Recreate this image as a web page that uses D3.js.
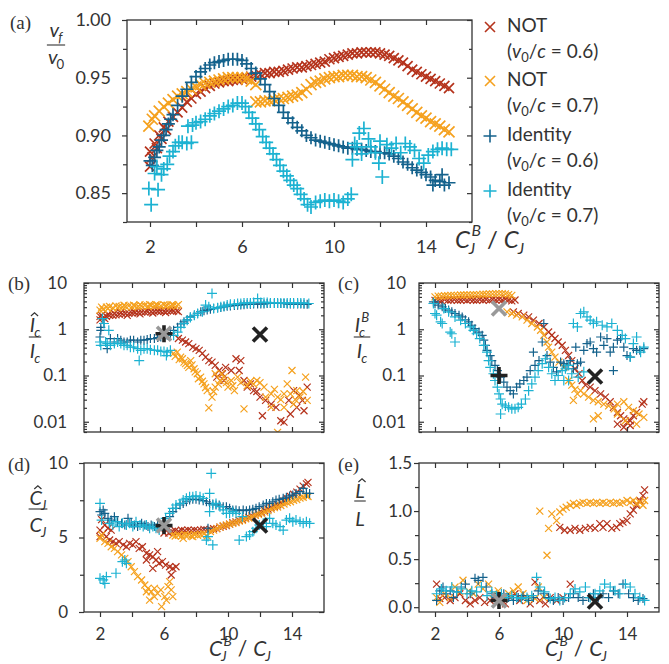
<!DOCTYPE html>
<html>
<head>
<meta charset="utf-8">
<script src="https://cdn.jsdelivr.net/npm/d3@7"></script>
<style>
  body { margin: 0; background: #fff; }
  text { font-family: Lato, "Open Sans", sans-serif; fill: #333; }
</style>
</head>
<body>
<script>
// colours of the four series: NOT 0.6, NOT 0.7, Identity 0.6, Identity 0.7
var colNot06 = "#b5331c", colNot07 = "#f5a11e", colId06 = "#14628c", colId07 = "#1cb2d2";
var axisCol = "#333";

// shared x axis
var xDomain = [1, 16];
var xTicksAll = [2, 4, 6, 8, 10, 12, 14];
var xTicksLabeled = [2, 6, 10, 14];

// y ticks
var aYTicks = [0.85, 0.90, 0.95, 1.00];
var aYMinor = [0.825, 0.875, 0.925, 0.975];
var logTicks = [0.01, 0.1, 1, 10];
var logTickLabels = ["0.01", "0.1", "1", "10"];
var dYTicks = [0, 5, 10];
var dYMinor = [2.5, 7.5];
var eYTicks = [0.0, 0.5, 1.0, 1.5];
var eYMinor = [0.25, 0.75, 1.25];

var legendLabels = ["NOT", "NOT", "Identity", "Identity"];
var legendSpeeds = ["0.6", "0.7", "0.6", "0.7"];

// ---- panel (a): v_f / v_0 ----
var aNot06 = [[2.0,0.873],[2.0,0.886],[2.1,0.881],[2.2,0.893],[2.3,0.889],[2.4,0.900],[2.5,0.897],[2.6,0.907],[2.7,0.905],[2.8,0.912],[3.0,0.916],[3.2,0.920],[3.4,0.924],[3.6,0.929],[3.8,0.932],[4.0,0.936],[4.2,0.938],[4.4,0.941],[4.6,0.943],[4.8,0.945],[5.0,0.946],[5.2,0.947],[5.4,0.947],[5.6,0.948],[5.8,0.948],[6.0,0.949],[6.2,0.950],[6.4,0.951],[6.6,0.952],[6.8,0.953],[7.0,0.954],[7.2,0.954],[7.4,0.955],[7.6,0.955],[7.8,0.956],[8.0,0.957],[8.2,0.958],[8.4,0.959],[8.6,0.959],[8.8,0.960],[9.0,0.961],[9.2,0.962],[9.4,0.963],[9.6,0.964],[9.8,0.966],[10.0,0.967],[10.2,0.968],[10.4,0.969],[10.6,0.970],[10.8,0.971],[11.0,0.971],[11.2,0.972],[11.4,0.972],[11.6,0.972],[11.8,0.972],[12.0,0.971],[12.2,0.970],[12.4,0.969],[12.6,0.967],[12.8,0.965],[13.0,0.963],[13.2,0.960],[13.4,0.957],[13.6,0.955],[13.8,0.953],[14.0,0.951],[14.2,0.949],[14.4,0.947],[14.6,0.945],[14.8,0.943],[15.0,0.941]];
var aNot07 = [[1.95,0.908],[2.1,0.914],[2.2,0.917],[2.4,0.921],[2.6,0.925],[2.8,0.928],[3.0,0.931],[3.2,0.934],[3.4,0.936],[3.6,0.938],[3.8,0.940],[4.0,0.942],[4.2,0.944],[4.4,0.945],[4.6,0.946],[4.8,0.947],[5.0,0.948],[5.2,0.949],[5.4,0.950],[5.6,0.950],[5.8,0.950],[6.0,0.950],[6.2,0.949],[6.4,0.947],[6.6,0.944],[6.6,0.929],[6.8,0.929],[7.0,0.930],[7.2,0.930],[7.4,0.931],[7.6,0.932],[7.8,0.932],[8.0,0.933],[8.2,0.934],[8.4,0.935],[8.6,0.937],[8.8,0.940],[9.0,0.944],[9.2,0.946],[9.4,0.947],[9.6,0.949],[9.8,0.950],[10.0,0.951],[10.2,0.951],[10.4,0.952],[10.6,0.952],[10.8,0.952],[11.0,0.951],[11.2,0.951],[11.4,0.950],[11.6,0.948],[11.8,0.946],[12.0,0.943],[12.2,0.940],[12.4,0.937],[12.6,0.934],[12.8,0.932],[13.0,0.929],[13.2,0.926],[13.4,0.923],[13.6,0.920],[13.8,0.917],[14.0,0.915],[14.2,0.912],[14.4,0.910],[14.6,0.908],[14.8,0.905],[15.0,0.903]];
var aId06 = [[2.0,0.878],[2.1,0.874],[2.2,0.881],[2.3,0.887],[2.4,0.890],[2.5,0.896],[2.6,0.900],[2.7,0.905],[2.8,0.910],[2.9,0.914],[3.0,0.918],[3.2,0.926],[3.4,0.934],[3.6,0.940],[3.8,0.946],[4.0,0.951],[4.2,0.955],[4.4,0.958],[4.6,0.961],[4.8,0.963],[5.0,0.964],[5.2,0.965],[5.4,0.966],[5.6,0.966],[5.8,0.966],[6.0,0.965],[6.2,0.962],[6.4,0.958],[6.6,0.954],[6.8,0.949],[7.0,0.944],[7.2,0.938],[7.4,0.932],[7.6,0.926],[7.8,0.920],[8.0,0.915],[8.2,0.911],[8.4,0.907],[8.6,0.904],[8.8,0.900],[9.0,0.898],[9.2,0.896],[9.4,0.895],[9.6,0.894],[9.8,0.893],[10.0,0.892],[10.2,0.891],[10.4,0.890],[10.6,0.889],[10.8,0.889],[11.0,0.888],[11.2,0.888],[11.4,0.887],[11.6,0.886],[11.8,0.886],[12.0,0.885],[12.2,0.885],[12.4,0.884],[12.6,0.882],[12.8,0.880],[13.0,0.877],[13.2,0.875],[13.4,0.872],[13.6,0.870],[13.8,0.868],[14.0,0.866],[14.2,0.864],[14.3,0.857],[14.4,0.861],[14.6,0.860],[14.7,0.866],[14.8,0.857],[15.0,0.859]];
var aId07 = [[1.95,0.854],[2.05,0.840],[2.35,0.853],[2.2,0.867],[2.3,0.873],[2.5,0.866],[2.6,0.871],[2.75,0.875],[2.85,0.882],[3.0,0.886],[3.1,0.891],[3.25,0.894],[3.4,0.894],[3.6,0.893],[3.8,0.894],[3.65,0.908],[3.85,0.909],[4.0,0.911],[4.2,0.912],[4.4,0.914],[4.6,0.917],[4.8,0.919],[5.0,0.921],[5.2,0.923],[5.4,0.925],[5.6,0.926],[5.8,0.928],[6.0,0.928],[6.15,0.925],[6.3,0.920],[6.45,0.915],[6.6,0.910],[6.75,0.905],[6.9,0.899],[7.05,0.894],[7.2,0.889],[7.35,0.884],[7.5,0.879],[7.65,0.874],[7.8,0.869],[7.95,0.865],[8.1,0.861],[8.25,0.857],[8.4,0.854],[8.55,0.849],[8.7,0.845],[8.85,0.840],[9.0,0.838],[9.2,0.842],[9.4,0.843],[9.6,0.844],[9.8,0.843],[10.0,0.844],[10.2,0.843],[10.4,0.842],[10.6,0.845],[10.75,0.849],[10.8,0.879],[10.9,0.893],[11.0,0.890],[11.1,0.902],[11.2,0.884],[11.3,0.906],[11.5,0.897],[11.6,0.890],[11.8,0.885],[11.95,0.876],[12.0,0.895],[12.1,0.864],[12.3,0.892],[12.5,0.889],[12.7,0.893],[12.9,0.885],[13.1,0.893],[13.3,0.890],[13.5,0.887],[13.7,0.880],[13.9,0.876],[14.1,0.883],[14.3,0.886],[14.5,0.888],[14.7,0.889],[14.9,0.888],[15.1,0.888]];

// ---- panel (b): I_c hat / I_c (log) ----
var bNot06 = [[2.0,1.6],[2.0,1.9],[2.1,2.0],[2.2,1.8],[2.3,1.7],[2.4,1.9],[2.5,2.1],[2.6,2.0],[2.8,2.0],[2.9,2.2],[3.0,2.05],[3.2,2.1],[3.3,2.3],[3.4,2.15],[3.6,2.2],[3.7,2.0],[3.8,2.2],[4.0,2.25],[4.1,2.4],[4.2,2.3],[4.4,2.3],[4.5,2.15],[4.6,2.35],[4.8,2.35],[4.9,2.5],[5.0,2.4],[5.2,2.4],[5.3,2.25],[5.4,2.4],[5.6,2.45],[5.7,2.6],[5.8,2.45],[6.0,2.45],[6.1,2.3],[6.2,2.5],[6.4,2.5],[6.5,2.6],[6.6,2.5],[6.8,2.5],[6.9,2.4],
  [6.9,0.63],[7.15,0.58],[7.35,0.53],[7.55,0.49],[7.8,0.41],[8.0,0.38],[8.2,0.35],[8.4,0.30],[8.6,0.25],[8.8,0.21],[9.0,0.195],[9.2,0.165],[9.3,0.092],[9.45,0.128],[9.65,0.109],[9.75,0.078],[9.85,0.15],[10.2,0.128],[10.5,0.23],[10.7,0.128],[10.8,0.21],[11.0,0.078],[11.2,0.056],[11.4,0.066],[11.6,0.047],[11.8,0.045],[12.0,0.034],[12.15,0.0135],[12.35,0.029],[12.7,0.024],[13.0,0.0205],[13.3,0.0105],[13.5,0.0098],[13.8,0.029],[13.9,0.0147],[14.1,0.047],[14.3,0.0205],[14.45,0.037],[14.65,0.029],[14.75,0.0173],[14.95,0.056]];
var bNot07 = [[2.0,2.6],[2.1,3.0],[2.2,2.7],[2.4,3.0],[2.5,2.8],[2.6,3.1],[2.8,2.9],[3.0,3.2],[3.1,2.9],[3.2,3.1],[3.4,3.0],[3.5,3.3],[3.6,3.1],[3.8,3.2],[4.0,3.0],[4.1,3.3],[4.2,3.2],[4.4,3.1],[4.5,3.4],[4.6,3.2],[4.8,3.3],[5.0,3.1],[5.1,3.4],[5.2,3.3],[5.4,3.2],[5.5,3.4],[5.6,3.3],[5.8,3.2],[6.0,3.4],[6.1,3.2],[6.2,3.3],[6.4,3.2],[6.5,3.4],[6.6,3.3],[6.8,3.2],[6.9,3.4],
  [6.6,0.30],[6.7,0.26],[6.83,0.32],[6.95,0.22],[7.04,0.25],[7.15,0.23],[7.25,0.195],[7.35,0.18],[7.46,0.165],[7.55,0.15],[7.67,0.21],[7.75,0.17],[7.88,0.14],[7.95,0.12],[8.08,0.109],[8.15,0.085],[8.29,0.092],[8.4,0.075],[8.5,0.066],[8.6,0.055],[8.7,0.047],[8.8,0.02],[9.0,0.034],[9.1,0.045],[9.2,0.056],[9.2,0.109],[9.4,0.065],[9.5,0.078],[9.6,0.11],[9.75,0.092],[9.9,0.07],[10.0,0.056],[10.2,0.078],[10.3,0.06],[10.4,0.047],[10.6,0.092],[10.8,0.07],[11.0,0.019],[11.2,0.06],[11.4,0.075],[11.6,0.065],[11.8,0.078],[12.0,0.07],[12.25,0.056],[12.35,0.034],[12.7,0.04],[12.7,0.0205],[12.9,0.05],[13.1,0.034],[13.1,0.0059],[13.3,0.03],[13.5,0.04],[13.5,0.0205],[13.7,0.066],[13.9,0.04],[14.0,0.128],[14.1,0.024],[14.2,0.03],[14.3,0.047],[14.5,0.034],[14.7,0.045],[14.85,0.092],[14.95,0.029]];
var bId06 = [[2.0,0.68],[2.05,0.95],[2.05,1.1],[2.25,1.33],[2.45,0.38],[2.65,0.63],[2.9,0.53],[3.1,0.63],[3.3,0.58],[3.5,0.53],[3.7,0.53],[3.9,0.58],[4.1,0.58],[4.35,0.53],[4.55,0.58],[4.75,0.58],[4.95,0.6],[5.15,0.63],[5.4,0.63],[5.6,0.66],[5.8,0.68],[6.0,0.7],[6.2,0.74],[6.4,0.82],[6.6,0.95],[6.85,1.1],[7.05,1.3],[7.25,1.45],[7.45,1.6],[7.65,1.85],[7.9,2.0],[8.1,2.2],[8.3,2.4],[8.5,2.5],[8.7,2.6],[8.9,2.7],[9.1,2.8],[9.35,2.9],[9.55,2.95],[9.75,3.05],[9.95,3.15],[10.15,3.2],[10.4,3.25],[10.6,3.3],[10.8,3.35],[11.0,3.4],[11.2,3.45],[11.4,3.45],[11.6,3.5],[11.85,3.5],[12.05,3.5],[12.25,3.5],[12.45,3.6],[12.65,3.6],[12.9,3.6],[13.1,3.6],[13.3,3.6],[13.5,3.6],[13.7,3.5],[13.9,3.5],[14.1,3.5],[14.35,3.5],[14.55,3.5],[14.75,3.45],[14.95,3.45]];
var bId07 = [[2.0,0.53],[2.05,0.45],[2.15,1.7],[2.25,1.33],[2.35,0.53],[2.45,0.49],[2.55,0.95],[2.65,0.45],[2.9,0.49],[3.1,0.53],[3.3,0.49],[3.5,0.45],[3.7,0.45],[3.9,0.41],[4.1,0.41],[4.35,0.38],[4.45,0.21],[4.55,0.35],[4.75,0.38],[4.95,0.38],[5.15,0.36],[5.4,0.35],[5.6,0.35],[5.8,0.33],[6.0,0.33],[6.15,0.27],[6.2,0.32],[6.4,0.35],[6.6,0.74],[6.85,0.87],[7.05,1.1],[7.25,1.33],[7.45,1.57],[7.65,1.8],[7.9,2.0],[8.1,2.2],[8.4,2.4],[8.6,3.33],[8.8,3.06],[9.0,5.96],[9.1,2.8],[9.35,2.9],[9.55,3.06],[9.75,3.15],[9.95,3.33],[10.15,3.45],[10.4,3.45],[10.6,3.6],[10.8,3.6],[11.0,3.7],[11.2,3.7],[11.4,3.7],[11.6,3.8],[11.85,4.6],[12.05,3.8],[12.25,3.8],[12.45,3.8],[12.65,3.7],[12.9,3.7],[13.1,3.7],[13.3,3.7],[13.5,3.7],[13.7,3.7],[13.9,3.7],[14.1,3.7],[14.35,3.7],[14.55,3.7],[14.75,3.7],[15.05,3.6]];

// ---- panel (c): I_c^B / I_c (log) ----
var cNot06 = [[2.0,4.2],[2.2,4.3],[2.4,4.1],[2.6,4.4],[2.8,4.2],[3.0,4.3],[3.2,4.4],[3.4,4.2],[3.6,4.3],[3.8,4.4],[4.0,4.2],[4.2,4.4],[4.4,4.3],[4.6,4.2],[4.8,4.4],[5.0,4.3],[5.2,4.4],[5.4,4.2],[5.6,4.4],[5.8,4.3],[6.0,4.4],[6.2,4.3],[6.4,4.5],[6.6,4.3],[6.8,4.1],[7.0,4.3],
  [6.9,2.38],[7.2,2.19],[7.55,2.02],[7.85,1.85],[8.15,1.57],[8.5,1.33],[8.8,1.12],[9.1,0.87],[9.3,0.74],[9.5,0.63],[9.7,0.53],[9.95,0.45],[10.15,0.35],[10.35,0.27],[10.55,0.21],[10.75,0.14],[11.0,0.109],[11.2,0.078],[11.4,0.062],[11.7,0.056],[12.0,0.047],[12.35,0.04],[12.65,0.034],[12.95,0.027],[13.15,0.0205],[13.4,0.016],[13.4,0.0089],[13.6,0.0135],[13.8,0.0115],[13.8,0.0076],[14.0,0.0097],[14.2,0.0105],[14.2,0.0083],[14.4,0.0135],[14.6,0.016],[14.95,0.024],[15.05,0.027]];
var cNot07 = [[2.0,5.0],[2.2,5.2],[2.4,5.2],[2.6,5.3],[2.8,5.3],[3.0,5.4],[3.2,5.4],[3.4,5.4],[3.6,5.5],[3.8,5.5],[4.0,5.5],[4.2,5.5],[4.4,5.6],[4.6,5.6],[4.8,5.6],[5.0,5.7],[5.2,5.7],[5.4,5.8],[5.6,5.8],[5.8,5.9],[6.0,5.9],[6.2,5.9],[6.4,5.8],[6.6,5.6],[6.8,5.4],
  [6.5,2.38],[6.8,2.19],[7.1,2.02],[7.45,1.85],[7.75,1.57],[8.05,1.33],[8.4,1.12],[8.6,0.95],[8.8,0.74],[9.0,0.53],[9.1,0.41],[9.3,0.32],[9.5,0.25],[9.75,0.195],[10.05,0.15],[10.35,0.078],[10.55,0.062],[10.65,0.029],[10.75,0.05],[10.9,0.04],[11.1,0.047],[11.3,0.04],[11.6,0.034],[11.9,0.029],[11.9,0.0115],[12.2,0.027],[12.2,0.0135],[12.55,0.024],[12.85,0.022],[13.2,0.019],[13.4,0.024],[13.4,0.0147],[13.8,0.027],[13.9,0.0105],[14.1,0.0205],[14.4,0.0173],[14.6,0.0089],[14.75,0.0147],[15.05,0.0124]];
var cId06 = [[1.9,3.9],[2.0,3.6],[2.2,3.33],[2.45,3.06],[2.65,2.8],[2.85,2.6],[3.05,2.38],[3.25,2.19],[3.5,2.02],[3.7,1.85],[3.9,1.6],[4.1,1.45],[4.3,1.22],[4.5,1.03],[4.75,0.87],[4.95,0.74],[5.05,0.58],[5.15,0.45],[5.25,0.35],[5.45,0.27],[5.55,0.21],[5.75,0.165],[5.9,0.128],[6.1,0.092],[6.3,0.072],[6.5,0.056],[6.7,0.047],[6.9,0.04],[7.1,0.056],[7.3,0.066],[7.55,0.078],[7.75,0.092],[7.95,0.128],[8.15,0.32],[8.25,0.165],[8.5,0.21],[8.7,0.53],[8.8,1.33],[9.0,0.27],[9.2,0.195],[9.4,0.15],[9.6,0.12],[9.85,0.195],[10.05,0.18],[10.25,0.165],[10.45,0.21],[10.65,0.14],[10.8,0.41],[10.9,0.18],[11.1,0.195],[11.3,0.35],[11.5,0.49],[11.7,0.53],[11.9,0.38],[12.1,0.32],[12.35,0.68],[12.55,0.45],[12.75,0.63],[12.95,0.32],[13.15,0.41],[13.15,0.128],[13.4,0.58],[13.6,0.63],[13.8,0.41],[14.0,0.27],[14.2,0.25],[14.4,0.38],[14.6,0.35],[14.8,0.35],[15.05,0.38]];
var cId07 = [[1.9,3.6],[2.0,2.19],[2.1,2.02],[2.35,1.45],[2.45,1.33],[2.55,2.8],[2.85,2.38],[2.95,0.87],[3.05,0.8],[3.25,0.53],[3.25,1.85],[3.6,1.57],[3.9,1.33],[4.2,1.12],[4.4,0.95],[4.6,0.8],[4.8,0.63],[5.05,0.45],[5.25,0.32],[5.35,0.21],[5.45,0.15],[5.65,0.109],[5.75,0.078],[5.9,0.056],[6.0,0.04],[6.1,0.031],[6.1,0.0147],[6.2,0.024],[6.4,0.022],[6.6,0.0205],[6.8,0.019],[7.0,0.019],[7.2,0.0205],[7.4,0.024],[7.65,0.031],[7.85,0.047],[8.05,0.066],[8.25,0.092],[8.45,0.128],[8.7,0.18],[8.9,0.23],[9.1,0.15],[9.3,0.109],[9.5,0.078],[9.7,0.1],[9.95,0.128],[10.05,0.078],[10.15,0.14],[10.35,0.165],[10.35,0.078],[10.55,0.109],[10.65,1.33],[10.9,1.12],[10.95,0.092],[11.1,2.19],[11.3,2.38],[11.3,0.12],[11.5,1.85],[11.7,1.57],[11.9,1.33],[12.1,1.45],[12.45,1.22],[12.75,1.12],[13.05,1.33],[13.4,0.95],[13.7,0.74],[13.9,0.63],[14.2,0.25],[14.4,0.49],[14.6,0.68],[14.85,0.32],[15.05,0.41]];

// ---- panel (d): C_J hat / C_J ----
var dNot06 = [[2.0,5.5],[2.1,6.2],[2.3,5.84],[2.5,5.62],[2.7,5.5],[6.0,5.3],[6.3,5.3],[6.5,5.4],[6.7,5.45],[6.9,5.4],[7.1,5.5],[7.3,5.45],[7.5,5.5],[7.7,5.45],[7.9,5.5],[8.1,5.45],[8.3,5.5],[8.5,5.55],[8.7,5.5],[8.9,5.55],[9.1,5.6],[9.3,5.6],[9.5,5.7],[9.7,5.75],[9.9,5.8],[10.1,5.9],[10.3,6.0],[10.5,6.05],[10.7,6.15],[10.9,6.2],[11.1,6.3],[11.3,6.35],[11.5,6.45],[11.7,6.5],[11.9,6.6],[12.1,6.7],[12.3,6.8],[12.5,6.9],[12.7,7.0],[12.9,7.1],[13.1,7.2],[13.3,7.35],[13.5,7.45],[13.7,7.6],[13.9,7.75],[14.1,7.9],[14.3,8.05],[14.5,8.25],[14.7,8.45],[14.9,8.6],[15.0,8.7],
  [2.0,5.06],[2.2,5.28],[2.4,5.06],[2.6,4.83],[2.8,4.72],[3.0,4.61],[3.2,4.72],[3.45,4.5],[3.65,4.38],[3.85,4.61],[4.05,4.5],[4.25,4.72],[4.45,4.27],[4.65,4.38],[4.9,3.94],[4.9,3.49],[5.1,3.83],[5.3,3.71],[5.3,2.93],[5.5,3.49],[5.6,4.05],[5.7,3.27],[5.9,3.38],[6.1,3.15],[6.35,3.04],[6.45,2.48],[6.55,2.93],[6.75,3.04]];
var dNot07 = [[6.55,5.17],[6.7,5.1],[6.9,5.15],[7.1,5.1],[7.2,4.94],[7.3,5.2],[7.5,5.15],[7.7,5.1],[7.8,5.06],[7.9,5.2],[8.1,5.15],[8.3,5.2],[8.5,5.25],[8.7,5.1],[8.9,5.4],[9.1,5.5],[9.3,5.6],[9.5,5.7],[9.7,5.8],[9.9,5.85],[10.1,5.9],[10.3,5.95],[10.5,6.0],[10.7,6.1],[10.9,6.15],[11.1,6.25],[11.3,6.3],[11.5,6.4],[11.7,6.5],[11.9,6.55],[12.1,6.6],[12.3,6.7],[12.5,6.8],[12.7,6.9],[12.9,7.0],[13.1,7.05],[13.3,7.15],[13.5,7.25],[13.7,7.35],[13.9,7.4],[14.1,7.5],[14.3,7.55],[14.5,7.65],[14.7,7.7],[14.9,7.8],[15.0,7.75],
  [2.0,4.94],[2.1,5.17],[2.3,4.72],[2.5,4.61],[2.7,4.38],[2.9,4.27],[3.1,4.05],[3.35,3.83],[3.55,3.6],[3.75,3.38],[3.95,3.04],[4.15,2.71],[4.35,2.37],[4.6,2.15],[4.8,1.81],[4.9,1.36],[5.0,1.59],[5.1,0.8],[5.2,1.36],[5.4,1.03],[5.4,1.59],[5.6,1.25],[5.8,1.48],[5.85,0.36],[6.05,1.03],[6.15,0.8],[6.25,1.7],[6.35,2.04],[6.45,1.48],[6.55,1.03]];
var dId06 = [[2.0,6.73],[2.1,6.51],[2.2,6.85],[2.3,6.62],[2.5,6.29],[2.7,6.17],[2.9,6.4],[3.1,6.06],[3.35,5.95],[3.55,5.84],[3.75,6.29],[3.95,5.95],[4.15,5.84],[4.35,5.73],[4.6,5.95],[4.8,5.84],[5.0,5.73],[5.2,5.84],[5.4,5.73],[5.6,5.84],[5.8,5.84],[6.1,6.06],[6.35,6.4],[6.55,6.73],[6.75,6.96],[7.0,7.18],[7.2,7.29],[7.4,7.4],[7.6,7.52],[7.8,7.56],[8.0,7.56],[8.2,7.52],[8.45,7.47],[8.65,7.4],[8.75,5.62],[8.85,7.29],[9.05,7.25],[9.25,7.18],[9.45,7.18],[9.7,7.07],[9.9,7.07],[10.1,6.96],[10.3,6.85],[10.5,6.85],[10.7,6.8],[10.95,6.85],[11.15,6.8],[11.35,6.85],[11.55,6.89],[11.75,6.96],[11.95,7.07],[12.2,7.18],[12.4,7.29],[12.6,7.29],[12.8,7.4],[13.0,7.52],[13.2,7.56],[13.45,7.63],[13.65,7.7],[13.85,7.79],[14.05,7.85],[14.25,7.96],[14.5,8.08],[14.7,8.3],[14.9,7.96],[15.1,7.96]];
var dId07 = [[2.0,7.29],[2.1,6.17],[2.0,2.26],[2.2,2.15],[2.3,1.92],[2.4,2.37],[3.0,2.6],[3.4,3.38],[3.55,3.49],[3.65,3.27],[2.6,5.95],[2.8,5.84],[3.0,6.06],[3.2,5.73],[3.4,5.95],[3.65,5.84],[3.85,5.95],[4.05,5.73],[4.25,6.06],[4.5,5.84],[4.7,5.73],[4.9,5.84],[5.1,5.62],[5.3,5.73],[5.5,5.62],[5.7,5.5],[6.1,6.29],[6.35,6.62],[6.55,6.96],[6.75,7.18],[7.0,7.29],[7.2,7.52],[7.4,7.63],[7.6,7.74],[7.8,7.74],[8.0,7.79],[8.25,7.74],[8.45,7.63],[8.65,4.83],[8.75,5.06],[8.85,7.96],[8.85,6.73],[8.95,9.3],[9.05,7.18],[9.05,4.5],[9.25,7.29],[9.5,7.07],[9.7,6.85],[9.9,6.62],[10.1,6.62],[10.3,6.73],[10.5,6.62],[10.7,4.83],[10.9,6.4],[11.15,5.06],[11.35,5.17],[11.55,5.39],[11.75,5.62],[11.95,5.84],[12.2,5.95],[12.4,5.73],[12.6,6.29],[12.8,5.95],[13.0,5.84],[13.25,5.73],[13.45,5.5],[13.65,6.17],[13.85,6.29],[14.05,6.06],[14.25,6.17],[14.5,6.06],[14.7,5.95],[14.9,6.06],[15.1,5.95]];

// ---- panel (e): L hat / L ----
var eNot06 = [[9.8,0.83],[10.1,0.8],[10.45,0.8],[10.75,0.82],[11.05,0.8],[11.4,0.82],[11.7,0.83],[12.0,0.82],[12.3,0.87],[12.5,0.83],[12.75,0.87],[13.05,0.82],[13.35,0.83],[13.55,0.87],[13.75,0.885],[14.0,0.9],[14.2,0.97],[14.4,1.01],[14.6,1.06],[14.8,1.11],[15.0,1.16],[15.1,1.22],
  [2.1,0.24],[2.3,0.09],[2.6,0.10],[2.95,0.07],[3.25,0.10],[3.55,0.14],[3.9,0.07],[4.2,0.035],[4.5,0.07],[4.8,0.10],[5.1,0.05],[5.45,0.07],[5.75,0.10],[6.05,0.07],[6.4,0.035],[6.7,0.10],[7.0,0.14],[7.3,0.07],[7.6,0.10],[7.95,0.035],[8.25,0.26],[8.55,0.07],[8.9,0.035],[9.2,0.10],[9.6,0.07],[10.0,0.10],[10.45,0.24]];
var eNot07 = [[8.55,1.0],[9.0,0.54],[9.1,0.82],[9.3,0.97],[9.6,0.9],[9.8,0.99],[10.0,1.02],[10.2,1.04],[10.45,1.06],[10.65,1.08],[10.85,1.06],[11.05,1.08],[11.25,1.09],[11.5,1.08],[11.7,1.09],[11.9,1.08],[12.1,1.09],[12.3,1.08],[12.5,1.09],[12.7,1.08],[12.95,1.09],[13.15,1.08],[13.35,1.09],[13.55,1.08],[13.75,1.09],[14.0,1.11],[14.2,1.09],[14.4,1.11],[14.6,1.08],[14.8,1.09],[15.0,1.06],[15.1,1.11],
  [2.1,0.10],[2.3,0.05],[2.6,0.14],[2.95,0.10],[3.25,0.21],[3.55,0.16],[3.75,0.28],[4.1,0.17],[4.4,0.14],[4.7,0.24],[5.0,0.19],[5.35,0.24],[5.65,0.14],[5.95,0.17],[6.3,0.10],[6.6,0.14],[6.9,0.17],[7.2,0.21],[7.5,0.14],[7.75,0.07],[7.95,0.10],[8.25,0.09],[8.45,0.21],[8.8,0.10]];
var eId06 = [[2.1,0.07],[2.3,0.17],[2.5,0.21],[2.7,0.14],[2.95,0.17],[3.15,0.10],[3.35,0.16],[3.65,0.21],[3.9,0.24],[4.2,0.14],[4.5,0.30],[4.7,0.28],[5.0,0.31],[5.2,0.21],[5.55,0.14],[5.85,0.10],[6.3,0.14],[6.6,0.10],[6.9,0.07],[7.2,0.10],[7.5,0.12],[7.85,0.07],[8.15,0.10],[8.45,0.17],[8.8,0.14],[9.1,0.10],[9.4,0.07],[9.7,0.10],[10.0,0.07],[10.35,0.10],[10.65,0.14],[10.95,0.10],[11.25,0.07],[11.6,0.10],[11.9,0.14],[12.2,0.10],[12.5,0.14],[12.85,0.10],[13.15,0.17],[13.45,0.14],[13.75,0.24],[14.1,0.14],[14.4,0.10],[14.7,0.07],[15.0,0.09]];
var eId07 = [[2.1,0.14],[2.4,0.19],[2.7,0.17],[3.05,0.21],[3.35,0.16],[3.65,0.19],[4.0,0.14],[4.3,0.17],[4.6,0.16],[4.9,0.21],[5.25,0.12],[5.55,0.16],[5.85,0.12],[6.15,0.14],[6.5,0.10],[6.8,0.12],[7.1,0.10],[7.4,0.09],[7.75,0.10],[8.05,0.12],[8.35,0.31],[8.55,0.21],[8.85,0.16],[9.2,0.09],[9.5,0.10],[9.8,0.07],[10.1,0.10],[10.45,0.14],[10.75,0.19],[11.05,0.16],[11.4,0.21],[11.7,0.10],[12.0,0.14],[12.3,0.17],[12.6,0.24],[12.95,0.21],[13.25,0.17],[13.55,0.14],[13.9,0.24],[14.2,0.21],[14.5,0.14],[14.8,0.10],[15.1,0.07]];

// reference designs (black/grey markers) for panels b..e
var refPanels = ["b", "c", "d", "e"];
var refGreyX = [0.8, 2.8, 5.8, 0.07];     // NOT, C_J^B/C_J = 6
var refBlackPlus = [0.8, 0.1, 5.8, 0.07]; // Identity, C_J^B/C_J = 6
var refBlackX = [0.77, 0.095, 5.8, 0.06]; // NOT, C_J^B/C_J = 12

var W = 669, H = 664;
var svg = d3.select("body").append("svg").attr("width", W).attr("height", H);

var seriesKinds = ["x", "x", "+", "+"];
var seriesColors = [colNot06, colNot07, colId06, colId07];

function markerPath(kind, cx, cy, s) {
  if (kind === "x") {
    return "M" + (cx - s) + "," + (cy - s) + "L" + (cx + s) + "," + (cy + s) +
           "M" + (cx - s) + "," + (cy + s) + "L" + (cx + s) + "," + (cy - s);
  }
  return "M" + (cx - s) + "," + cy + "L" + (cx + s) + "," + cy +
         "M" + cx + "," + (cy - s) + "L" + cx + "," + (cy + s);
}

// italic letter with optional sub / superscript and hat, returns its width
function term(g, x, y, size, base, sub, sup, opts) {
  opts = opts || {};
  var t = g.append("text").attr("x", x).attr("y", y).attr("font-size", size)
    .attr("font-style", "italic").text(base);
  var w = t.node().getComputedTextLength();
  var small = size * 0.66, extra = 0;
  if (sup) {
    var s1 = g.append("text").attr("x", x + w + size * 0.06).attr("y", y - size * 0.48)
      .attr("font-size", small).attr("font-style", "italic").text(sup);
    extra = Math.max(extra, s1.node().getComputedTextLength() + size * 0.06);
  }
  if (sub) {
    var s2 = g.append("text").attr("x", x + w - size * 0.05).attr("y", y + size * 0.26)
      .attr("font-size", small).attr("font-style", opts.subUp ? "normal" : "italic").text(sub);
    extra = Math.max(extra, s2.node().getComputedTextLength() - size * 0.05);
  }
  if (opts.hat) {
    var cx = x + w * 0.5 + size * 0.1, hy = y - size * 0.8;
    g.append("path")
      .attr("d", "M" + (cx - size * 0.18) + "," + hy + "L" + cx + "," + (hy - size * 0.16) + "L" + (cx + size * 0.18) + "," + hy)
      .attr("fill", "none").attr("stroke", axisCol).attr("stroke-width", 1.2);
  }
  return w + extra;
}

function fraction(cx, lineY, num, den, numDy, denDy) {
  var g = svg.append("g");
  var gn = g.append("g");
  var wn = term(gn, 0, lineY + numDy, 20, num[0], num[1], num[2], num[3]);
  gn.attr("transform", "translate(" + (cx - wn / 2) + ",0)");
  var gd = g.append("g");
  var wd = term(gd, 0, lineY + denDy, 20, den[0], den[1], den[2], den[3]);
  gd.attr("transform", "translate(" + (cx - wd / 2) + ",0)");
  var hw = Math.max(wn, wd) / 2 + 1;
  g.append("line").attr("x1", cx - hw).attr("x2", cx + hw).attr("y1", lineY).attr("y2", lineY)
    .attr("stroke", axisCol).attr("stroke-width", 1.1);
}

function xLabel(x0, baseline, size) {
  var g = svg.append("g");
  var w = term(g, x0, baseline, size, "C", "J", "B");
  var sl = g.append("text").attr("x", x0 + w + 6).attr("y", baseline).attr("font-size", size).text("/");
  var w2 = sl.node().getComputedTextLength();
  term(g, x0 + w + 6 + w2 + 6, baseline, size, "C", "J", null);
}

function panelLabel(x, y, s) {
  svg.append("text").attr("x", x).attr("y", y).attr("font-size", 19)
    .style("font-family", "'Liberation Serif', 'DejaVu Serif', serif").text(s);
}

function styleAxis(g) {
  g.select(".domain").remove();
  g.selectAll(".tick line").attr("stroke", axisCol).attr("stroke-width", 1.2);
  g.selectAll(".tick text").attr("fill", axisCol).style("font-family", "Lato, sans-serif");
}

var logMinor = [];
[0.001, 0.01, 0.1, 1].forEach(function(dec) {
  for (var k = 2; k <= 9; k++) {
    var v = +(dec * k).toPrecision(3);
    if (v >= 0.006 && v <= 10) logMinor.push(v);
  }
});

function drawPanel(p, idx) {
  var x = d3.scaleLinear().domain(xDomain).range([p.left, p.right]);
  var y = (p.log ? d3.scaleLog() : d3.scaleLinear()).domain(p.yDomain).range([p.bottom, p.top]);

  var clipId = "clip" + idx;
  svg.append("clipPath").attr("id", clipId).append("rect")
    .attr("x", p.left).attr("y", p.top).attr("width", p.right - p.left).attr("height", p.bottom - p.top);
  var g = svg.append("g").attr("clip-path", "url(#" + clipId + ")");

  p.series.forEach(function(data, i) {
    g.append("g").selectAll("path").data(data).join("path")
      .attr("d", function(d) { return markerPath(seriesKinds[i], x(d[0]), y(d[1]), p.sizes[i]); })
      .attr("fill", "none").attr("stroke", seriesColors[i]).attr("stroke-width", p.sw);
  });

  if (p.ref) {
    var r = p.ref;
    g.append("path").attr("d", markerPath("+", x(6), y(r[1]), 8.5))
      .attr("stroke", "#222").attr("stroke-width", 3.6).attr("fill", "none");
    g.append("path").attr("d", markerPath("x", x(6), y(r[0]), 7))
      .attr("stroke", "#999").attr("stroke-width", 3.6).attr("fill", "none");
    g.append("path").attr("d", markerPath("x", x(12), y(r[2]), 7))
      .attr("stroke", "#222").attr("stroke-width", 3.6).attr("fill", "none");
  }

  // frame
  svg.append("rect").attr("x", p.left).attr("y", p.top)
    .attr("width", p.right - p.left).attr("height", p.bottom - p.top)
    .attr("fill", "none").attr("stroke", axisCol).attr("stroke-width", 1.3);

  var out = p.log ? -5 : 5;
  // x ticks, bottom and top
  svg.append("g").attr("transform", "translate(0," + p.bottom + ")")
    .call(d3.axisBottom(x).tickValues(xTicksAll).tickSize(out).tickFormat("")).call(styleAxis);
  svg.append("g").attr("transform", "translate(0," + p.top + ")")
    .call(d3.axisTop(x).tickValues(xTicksAll).tickSize(-5).tickFormat("")).call(styleAxis);
  if (p.xLabels) {
    svg.append("g").attr("transform", "translate(0," + p.bottom + ")")
      .call(d3.axisBottom(x).tickValues(xTicksLabeled).tickSize(0).tickPadding(p.xPad).tickFormat(d3.format("d")))
      .call(styleAxis).selectAll("text").attr("font-size", p.fs);
  }

  // y ticks, left and right
  svg.append("g").attr("transform", "translate(" + p.left + ",0)")
    .call(d3.axisLeft(y).tickValues(p.yTicks).tickSize(out).tickFormat("")).call(styleAxis);
  svg.append("g").attr("transform", "translate(" + p.right + ",0)")
    .call(d3.axisRight(y).tickValues(p.yTicks).tickSize(-5).tickFormat("")).call(styleAxis);
  svg.append("g").attr("transform", "translate(" + p.left + ",0)")
    .call(d3.axisLeft(y).tickValues(p.yMinor).tickSize(p.log ? -3 : 4).tickFormat("")).call(styleAxis);
  svg.append("g").attr("transform", "translate(" + p.right + ",0)")
    .call(d3.axisRight(y).tickValues(p.yMinor).tickSize(-3).tickFormat("")).call(styleAxis);
  svg.append("g").attr("transform", "translate(" + p.left + ",0)")
    .call(d3.axisLeft(y).tickValues(p.yTicks).tickSize(0).tickPadding(p.yPad).tickFormat(p.fmt))
    .call(styleAxis).selectAll("text").attr("font-size", p.fs);
}

var logFmt = function(d) { return logTickLabels[logTicks.indexOf(d)]; };

var panels = [
  { left: 127, right: 472, top: 20, bottom: 222, yDomain: [0.825, 1.0], yTicks: aYTicks, yMinor: aYMinor,
    fmt: d3.format(".2f"), fs: 18, yPad: 16, xLabels: true, xPad: 18,
    series: [aNot06, aNot07, aId06, aId07], sizes: [5, 5.5, 6.5, 7], sw: 1.7 },
  { left: 84, right: 324, top: 283, bottom: 432, log: true, yDomain: [0.006, 10], yTicks: logTicks, yMinor: logMinor,
    fmt: logFmt, fs: 17, yPad: 17, xLabels: false,
    series: [bNot06, bNot07, bId06, bId07], sizes: [3.5, 3.5, 4.5, 5], sw: 1.2,
    ref: [refGreyX[0], refBlackPlus[0], refBlackX[0]] },
  { left: 419, right: 659, top: 283, bottom: 432, log: true, yDomain: [0.006, 10], yTicks: logTicks, yMinor: logMinor,
    fmt: logFmt, fs: 17, yPad: 13, xLabels: false,
    series: [cNot06, cNot07, cId06, cId07], sizes: [3.5, 3.5, 4.5, 5], sw: 1.2,
    ref: [refGreyX[1], refBlackPlus[1], refBlackX[1]] },
  { left: 84, right: 324, top: 463, bottom: 612, yDomain: [0, 10], yTicks: dYTicks, yMinor: dYMinor,
    fmt: d3.format("d"), fs: 17, yPad: 16, xLabels: true, xPad: 16,
    series: [dNot06, dNot07, dId06, dId07], sizes: [3.5, 3.5, 4.5, 5], sw: 1.2,
    ref: [refGreyX[2], refBlackPlus[2], refBlackX[2]] },
  { left: 419, right: 659, top: 463, bottom: 612, yDomain: [-0.05, 1.5], yTicks: eYTicks, yMinor: eYMinor,
    fmt: d3.format(".1f"), fs: 17, yPad: 7, xLabels: true, xPad: 16,
    series: [eNot06, eNot07, eId06, eId07], sizes: [3.5, 3.5, 4.5, 5], sw: 1.2,
    ref: [refGreyX[3], refBlackPlus[3], refBlackX[3]] }
];

panels.forEach(drawPanel);

// panel letters
panelLabel(10, 29, "(a)");
panelLabel(8, 290, "(b)");
panelLabel(338, 290, "(c)");
panelLabel(8, 471, "(d)");
panelLabel(338, 471, "(e)");

// y-axis fraction labels
fraction(56, 45, ["v", "f", null], ["v", "0", null, { subUp: true }], -8, 19);
fraction(35, 337, ["I", "c", null, { hat: true }], ["I", "c", null], -5, 21);
fraction(362, 337, ["I", "c", "B"], ["I", "c", null], -5, 21);
fraction(38, 509, ["C", "J", null, { hat: true }], ["C", "J", null], -4, 23);
fraction(360, 501, ["L", null, null, { hat: true }], ["L", null, null], -3, 25);

// x-axis labels
xLabel(455, 248, 24);
xLabel(209, 656, 21);
xLabel(545, 656, 21);

// legend
var legY = [27, 81, 136, 191];
legendLabels.forEach(function(lab, i) {
  var my = legY[i];
  svg.append("path").attr("d", markerPath(seriesKinds[i], 490, my, i < 2 ? 5 : 6.5))
    .attr("fill", "none").attr("stroke", seriesColors[i]).attr("stroke-width", 1.6);
  svg.append("text").attr("x", 507).attr("y", my + 5).attr("font-size", 19).text(lab);
  var t = svg.append("text").attr("x", 507).attr("y", my + 31).attr("font-size", 19);
  t.append("tspan").text("(");
  t.append("tspan").attr("font-style", "italic").text("v");
  t.append("tspan").attr("font-size", 13).attr("dy", 4).text("0");
  t.append("tspan").attr("dy", -4).text("/");
  t.append("tspan").attr("font-style", "italic").text("c");
  t.append("tspan").text(" = " + legendSpeeds[i] + ")");
});
</script>
</body>
</html>
